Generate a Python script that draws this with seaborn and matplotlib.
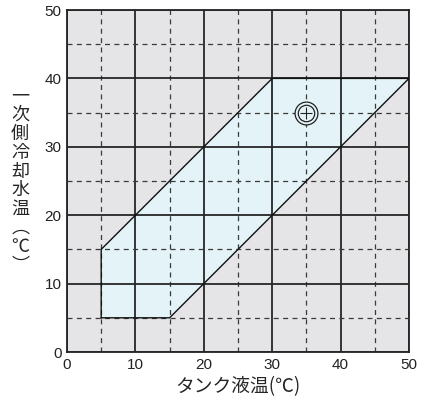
import matplotlib
matplotlib.use("Agg")
import matplotlib.pyplot as plt
import pandas as pd
import seaborn as sns

# operating range outline (tank temp, primary coolant temp)
area_x = [5, 15, 50, 30, 5, 5]
area_y = [5, 5, 40, 40, 15, 5]
point_x = [35]
point_y = [35]
ticks = [0, 10, 20, 30, 40, 50]
minor_ticks = [5, 15, 25, 35, 45]

xlabel = "タンク液温(℃)"
ylabel_chars = ["一", "次", "側", "冷", "却", "水", "温", "︵", "℃", "︶"]

FILL = "#e3f3f7"

sns.set_style("white")
plt.rcParams["font.family"] = ["Noto Sans CJK JP", "DejaVu Sans"]

fig = plt.figure(figsize=(4.27, 4.01), dpi=100)
ax = fig.add_axes([67 / 427, 1 - 352 / 401, 342 / 427, 342 / 401])
ax.set_facecolor("#e5e5e7")

area = pd.DataFrame({"x": area_x, "y": area_y})
ax.fill(area["x"], area["y"], color=FILL, zorder=1)

ax.set_xlim(0, 50)
ax.set_ylim(0, 50)
ax.set_xticks(ticks)
ax.set_yticks(ticks)
ax.set_xticks(minor_ticks, minor=True)
ax.set_yticks(minor_ticks, minor=True)
ax.grid(which="major", color="#262626", linewidth=1.3, zorder=2)
ax.grid(which="minor", color="#3a3a3a", linewidth=0.9, linestyle=(0, (4, 3.5)), zorder=2)
ax.set_axisbelow(False)
ax.tick_params(which="both", length=0, colors="#222222", pad=4)
for lab in ax.get_xticklabels() + ax.get_yticklabels():
    lab.set_family(["Liberation Sans", "DejaVu Sans"])
    lab.set_fontsize(11)
for s in ax.spines.values():
    s.set_color("#222222")
    s.set_linewidth(1.3)

sns.lineplot(data=area, x="x", y="y", sort=False, estimator=None, color="#111111",
             linewidth=1.0, ax=ax, zorder=3)

# target marker
sns.scatterplot(x=point_x, y=point_y, s=270, facecolor=FILL, edgecolor="#222222",
                linewidth=0.9, ax=ax, zorder=4)
sns.scatterplot(x=point_x, y=point_y, s=140, facecolor=FILL, edgecolor="#222222",
                linewidth=0.9, ax=ax, zorder=5)
sns.scatterplot(x=point_x, y=point_y, s=75, marker="+", color="#222222",
                linewidth=0.8, ax=ax, zorder=6)

ax.set_xlabel(xlabel, fontsize=13.5, labelpad=3)
ax.set_ylabel("")
ax.text(-0.137, 0.5, "\n".join(ylabel_chars), transform=ax.transAxes, fontsize=13,
        ha="center", va="center", linespacing=1.06)

fig.savefig("out.png", dpi=100)
